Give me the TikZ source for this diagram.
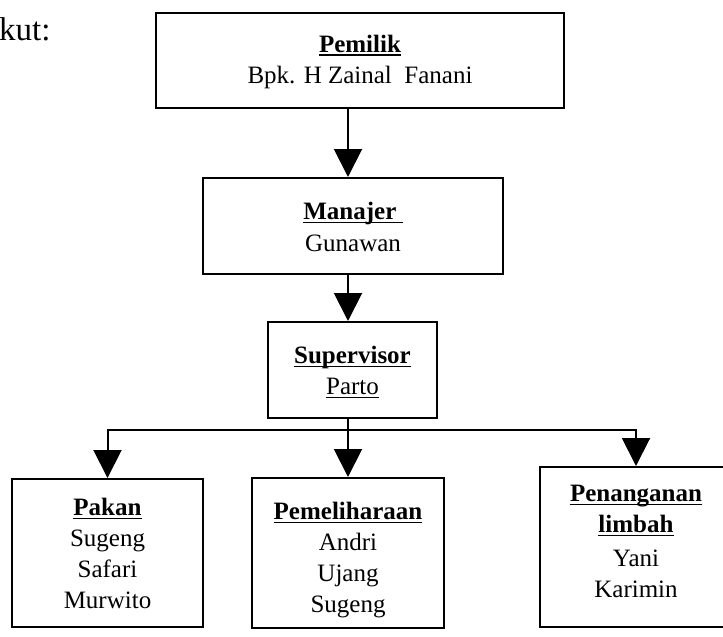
\documentclass[tikz,border=0pt]{standalone}
\usepackage{fontspec}
\setmainfont{Liberation Serif}
\usetikzlibrary{arrows.meta}
\newcommand\ulin[1]{\setbox0=\hbox{#1}\rlap{\rule[-4.2pt]{\wd0}{1.7pt}}\box0}
\begin{document}
\begin{tikzpicture}[x=1pt,y=-1pt,
  orgbox/.style={draw, line width=2pt, inner sep=0pt, fill=white},
  txt/.style={anchor=base, inner sep=0pt, font=\fontsize{25}{30}\selectfont},
  hd/.style={txt, font=\fontsize{25}{30}\selectfont\bfseries},
  conn/.style={line width=2pt},
  arr/.style={conn, -{Triangle[width=28pt,length=28pt]}},
  arrboth/.style={conn, {Triangle[width=28pt,length=28pt]}-{Triangle[width=28pt,length=28pt]}, line join=miter}]
\useasboundingbox (0,0) rectangle (723,637);
% lead-in text
\node[txt, anchor=base west, font=\fontsize{33}{38}\selectfont] (kut) at (-1,40) {kut:};
% boxes
\node[orgbox, minimum width=408pt, minimum height=95pt] (pemilik) at (360,60.5) {};
\node[orgbox, minimum width=300pt, minimum height=96pt] (manajer) at (353,226) {};
\node[orgbox, minimum width=169pt, minimum height=96pt] (supervisor) at (352.5,370) {};
\node[orgbox, minimum width=191pt, minimum height=148pt] (pakan) at (107.5,553) {};
\node[orgbox, minimum width=192pt, minimum height=150pt] (pemeliharaan) at (348,553) {};
\node[orgbox, minimum width=192pt, minimum height=160pt] (penanganan) at (636,547) {};
% texts
\node[hd] (t1a) at (360,52) {\ulin{Pemilik}};
\node[txt] (t1b) at (360,83) {Bpk. H Zainal\ \ Fanani};
\node[hd] (t2a) at (353,219) {\ulin{Manajer\ }};
\node[txt] (t2b) at (353,251) {Gunawan};
\node[hd] (t3a) at (352.5,363) {\ulin{Supervisor}};
\node[txt] (t3b) at (352.5,394) {\ulin{Parto}};
\node[hd] (t4a) at (107.5,515) {\ulin{Pakan}};
\node[txt] (t4b) at (107.5,546) {Sugeng};
\node[txt] (t4c) at (107.5,577) {Safari};
\node[txt] (t4d) at (107.5,608) {Murwito};
\node[hd] (t5a) at (348,519) {\ulin{Pemeliharaan}};
\node[txt] (t5b) at (348,550) {Andri};
\node[txt] (t5c) at (348,581) {Ujang};
\node[txt] (t5d) at (348,612) {Sugeng};
\node[hd] (t6a) at (636,501) {\ulin{Penanganan}};
\node[hd] (t6b) at (636,532) {\ulin{limbah}};
\node[txt] (t6c) at (636,566) {Yani};
\node[txt] (t6d) at (636,597) {Karimin};
% connectors
\coordinate (spine) at (348,0);
\coordinate (bus) at (348,430);
\draw[arr] (pemilik.south -| spine) -- (manajer.north -| spine);
\draw[arr] (manajer.south -| spine) -- (supervisor.north -| spine);
\draw[arr] (supervisor.south -| spine) -- (pemeliharaan.north -| spine);
\draw[arrboth] (pakan.north) |- (bus) -| (penanganan.north);
\end{tikzpicture}
\end{document}
